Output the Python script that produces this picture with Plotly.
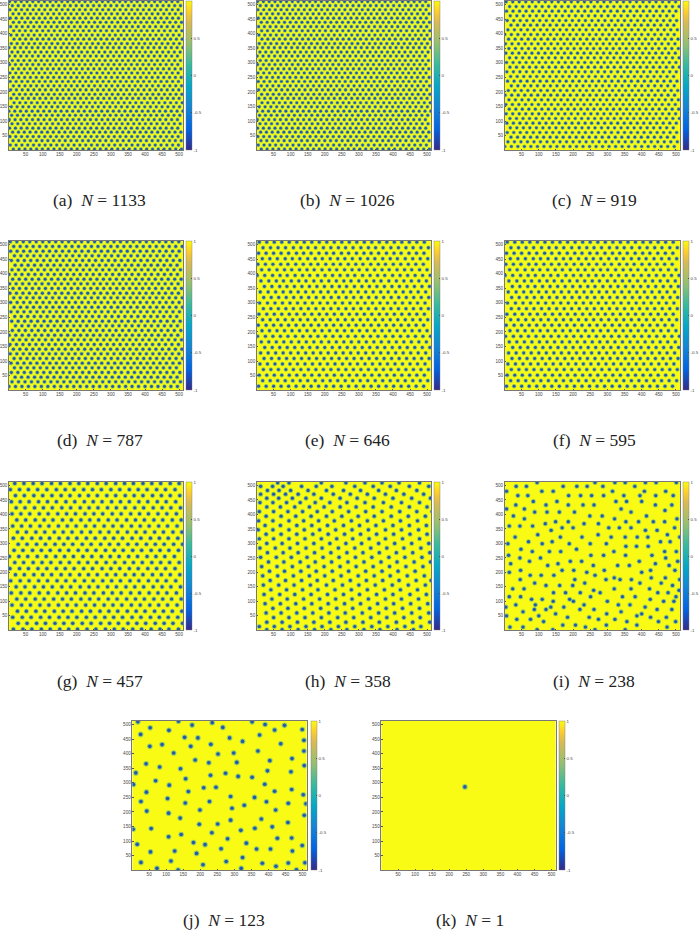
# Panel i was mostly read from a zoom, plus about 20 dots placed by eye to fill gaps.
# Panels g and h are coarse row-wise estimates (g was not zoomed). Panels a-f are too fine to resolve:
# their rows are hand-typed estimates matching overall dot density only, and pairs a/b, c/d, e/f share a list.
import plotly.graph_objects as go

titles = ["(a)", "(b)", "(c)", "(d)", "(e)", "(f)", "(g)", "(h)", "(i)", "(j)", "(k)"]
counts = [1133, 1026, 919, 787, 646, 595, 457, 358, 238, 123, 1]
tick_values = [50, 100, 150, 200, 250, 300, 350, 400, 450, 500]
cbar_ticks = [-1, -0.5, 0, 0.5, 1]
cbar_labels = ["-1", "-0.5", "0", "0.5", "1"]

k_x = [246]
k_y = [286]
j_x = [17,136,235,352,53,108,176,266,390,447,418,499,25,154,193,286,374,324,504,52,88,172,231,436,504,122,252,298,369,185,225,307,404,469,41,81,142,505,11,230,274,311,352,397,466,157,69,4,109,389,210,246,418,468,42,165,289,359,502,104,26,227,156,394,458,329,510,293,199,421,43,107,505,141,379,289,457,197,251,411,56,3,360,319,234,144,107,426,468,280,180,15,214,335,499,261,365,406,54,125,470,189,324,114,26,276,382,458,507,208,422,73,320,135,482]
j_y = [509,511,506,509,489,480,498,490,500,497,481,483,466,456,454,454,464,442,446,425,431,425,432,434,409,402,399,402,409,378,369,370,376,383,365,354,348,359,334,326,333,322,319,341,338,314,307,294,292,295,283,285,271,277,268,270,253,250,259,246,236,236,231,235,230,223,228,213,207,207,203,196,189,179,176,172,164,158,159,149,143,141,144,137,129,123,115,110,111,108,95,89,88,93,85,74,73,73,63,66,66,58,44,32,27,30,24,25,26,19,14,7,7,1,2]

rows_i = [(510,[95,264,322,352,411,442,501]),(497,[34,64,171,211,241,287,380]),(480,[6,109,142,315,408,470]),(465,[39,68,187,222,254,289,348,441,492,395]),(445,[84,153,325,356,400]),(433,[33,121,186,229,261,440,488]),(419,[6,58,340]),(414,[468]),(408,[88,124,160,204,369]),(395,[26,249,285,414]),(385,[58,321,503]),(375,[149,186,354,391,434,467]),(368,[119,232,274]),(360,[14,45,82]),(354,[304,335,369,168,200,496]),(345,[136,411,445]),(330,[273,475,97]),(322,[31,163,226,311,352,387,418,511]),(306,[70,139,455,483]),(299,[10,110,189,250,297]),(290,[354,385,419]),(280,[48,210]),(272,[81,164,131,467,501,319]),(259,[12,252,289,353,430]),(250,[45,105,470]),(238,[73,192,225,393,505]),(230,[18,156,440]),(224,[126,259,330,364,480]),(207,[47,168,202,291,426,497]),(200,[14,400,240]),(190,[75,107,144,264]),(181,[428,469,320]),(175,[46,296,337,370,511,205]),(163,[234,457,88,395]),(155,[121,161,199,490]),(143,[24,57,320,369,423]),(138,[509,260]),(130,[143,178,221,279,447,477]),(116,[14,47,251,344,381,500]),(107,[79,110,425,190]),(100,[142,201,300,464,494]),(88,[33,232,332,366,90]),(80,[4,173,410,135]),(72,[87,121,261,445,488,220]),(64,[54,340]),(57,[149,298,400]),(50,[6,386,100]),(45,[184,247,426,472]),(38,[36,76,274,322]),(30,[114,357,499,449]),(18,[170,207,297,386]),(11,[16,54,236,474]),(2,[95,141,264,352])]

rows_h = [(509,[62,95,190,262,318,368,418,478]),(497,[12,47,78,132,175,221,288,342,392,448,505]),(483,[32,66,100,151,205,255,305,358,410,470]),(470,[12,50,85,122,168,225,275,325,378,432,490]),(456,[30,65,105,145,190,245,295,345,400,455,510]),(441,[10,48,88,128,172,215,265,318,372,425,478]),(426,[30,70,112,155,198,245,292,342,395,448,500]),(410,[8,50,92,135,178,222,270,320,368,420,470,515]),(394,[28,72,115,160,205,250,298,345,395,445,495]),(378,[6,48,95,138,182,228,278,325,372,422,472]),(362,[25,70,118,162,208,255,302,350,400,448,498]),(347,[5,48,95,140,185,232,280,328,378,425,475]),(332,[28,72,118,165,210,258,305,352,402,450,500]),(316,[8,50,95,142,190,235,282,330,378,428,478]),(300,[30,75,120,168,215,262,308,358,405,455,505]),(284,[10,55,98,145,192,240,288,335,382,432,482]),(268,[32,78,122,170,218,265,312,360,410,458,508]),(252,[12,58,102,148,195,242,290,338,388,435,485]),(236,[35,80,128,172,220,268,315,365,412,462,510]),(220,[15,60,105,152,198,245,292,342,390,438,488]),(204,[38,82,130,175,222,270,320,368,415,465]),(188,[18,62,108,155,200,248,298,345,392,442,492]),(172,[40,85,132,178,225,275,322,370,418,468,512]),(156,[20,65,110,158,205,252,300,348,398,445,495]),(140,[42,88,135,180,230,278,325,375,422,472]),(124,[22,68,112,160,208,255,302,352,400,450,498]),(108,[45,90,138,185,232,280,328,378,425,475]),(92,[25,70,115,162,210,258,305,355,402,452,502]),(76,[48,92,140,188,235,282,332,380,428,478]),(60,[28,72,118,165,212,260,310,358,405,455,505]),(44,[50,95,142,190,238,285,335,382,432,480]),(28,[30,75,120,168,215,262,312,360,410,458,508]),(13,[8,52,98,145,192,240,288,338,385,435,482]),(2,[30,75,122,170,218,265,315,362,412,460])]

rows_g = [(507,[18,45,72,98,126,152,180,206,232,260,286,314,340,366,394,420,446,474,500]),(486,[5,32,58,85,112,140,166,192,220,246,272,300,326,354,380,406,434,460,488]),(465,[20,46,74,100,127,154,180,208,234,260,288,314,342,368,394,422,448,474,502]),(444,[8,34,60,88,114,140,168,194,222,248,274,302,328,354,382,408,436,462,490]),(423,[22,48,76,102,128,156,182,210,236,262,290,316,342,370,396,424,450,476,504]),(402,[10,36,62,90,116,144,170,196,224,250,276,304,330,358,384,410,438,464,492]),(381,[24,50,78,104,130,158,184,212,238,264,292,318,346,372,398,426,452,480,506]),(360,[12,38,64,92,118,146,172,198,226,252,280,306,332,360,386,412,440,466,494]),(339,[26,52,80,106,134,160,186,214,240,268,294,320,348,374,400,428,454,482,508]),(318,[14,40,68,94,120,148,174,200,228,254,282,308,334,362,388,416,442,468,496]),(297,[28,54,82,108,136,162,188,216,242,270,296,322,350,376,404,430,456,484,510]),(276,[16,42,70,96,122,150,176,204,230,256,284,310,336,364,390,418,444,470,498]),(255,[2,30,56,84,110,138,164,190,218,244,272,298,324,352,378,406,432,458,486]),(234,[18,44,72,98,124,152,178,206,232,258,286,312,340,366,392,420,446,472,500]),(213,[4,32,58,86,112,140,166,192,220,246,274,300,326,354,380,408,434,460,488]),(192,[20,46,74,100,126,154,180,208,234,260,288,314,342,368,394,422,448,474,502]),(171,[6,34,60,88,114,142,168,194,222,248,276,302,328,356,382,410,436,462,490]),(150,[22,48,76,102,128,156,182,210,236,262,290,316,344,370,396,424,450,476,504]),(129,[8,36,62,90,116,144,170,196,224,250,278,304,330,358,384,412,438,464,492]),(108,[24,50,78,104,132,158,184,212,238,264,292,318,346,372,398,426,452,478,506]),(87,[10,38,64,92,118,146,172,198,226,252,280,306,332,360,386,414,440,466,494]),(66,[26,52,80,106,134,160,186,214,240,268,294,320,348,374,400,428,454,480,508]),(45,[12,40,66,94,120,148,174,200,228,254,282,308,334,362,388,416,442,468,496]),(24,[28,54,82,108,136,162,188,216,242,270,296,322,350,376,402,430,456,482,510]),(4,[14,42,68,96,122,150,176,202,230,256,284,310,336,364,390,418,444,470,498])]

rows_ef = [(508,[8,30,52,74,96,118,140,162,184,206,228,250,272,294,316,338,360,382,404,426,448,470,492]),(489,[19,41,63,85,108,130,151,173,196,218,240,261,283,306,328,349,371,394,416,438,459,482,504]),(470,[6,28,50,72,94,117,138,160,183,205,226,249,270,293,315,336,358,381,403,424,447,469,491]),(451,[17,39,61,84,105,127,150,172,193,216,238,259,281,304,326,347,370,392,413,436,458,480,502]),(432,[4,26,48,71,92,115,137,159,180,203,225,246,269,291,312,335,357,378,401,423,445,467,489]),(413,[15,37,60,82,103,126,148,169,192,214,235,258,280,301,324,346,368,389,412,434,455,478,500]),(394,[2,24,47,69,90,113,135,156,179,201,223,245,267,288,311,333,355,376,399,421,443,465,487,509]),(375,[13,36,58,79,102,124,145,168,190,212,234,256,277,300,322,344,365,388,410,432,454,476,498]),(356,[23,45,68,89,111,133,155,177,199,221,243,264,287,309,331,353,375,397,419,441,463,485,507]),(337,[11,34,56,78,100,122,144,166,188,210,232,254,276,298,320,342,364,386,408,430,452,474,496]),(318,[21,43,65,87,109,131,153,175,197,219,241,263,285,307,329,351,373,395,417,439,461,483,505]),(299,[9,32,54,76,98,120,142,164,186,208,230,252,274,296,318,340,362,384,406,428,450,472,494]),(280,[20,42,64,86,108,130,152,174,196,218,240,262,284,306,328,350,372,394,416,438,460,482,504]),(261,[7,30,52,74,96,118,140,162,184,206,228,250,272,294,316,338,360,382,404,426,448,470,492]),(242,[18,40,62,84,106,128,150,172,194,216,238,260,282,304,326,348,370,392,414,436,458,480,502]),(223,[5,28,50,72,94,116,138,160,182,204,226,248,270,292,314,336,358,380,402,424,446,468,490]),(204,[16,38,60,82,104,126,148,170,192,214,236,258,280,302,324,346,368,390,412,434,456,478,500]),(185,[3,26,48,70,92,114,136,158,180,202,224,246,268,290,312,334,356,378,400,422,444,466,488,510]),(166,[14,36,58,80,102,124,146,168,190,212,234,256,278,300,322,344,366,388,410,432,454,476,498]),(147,[24,46,68,90,112,134,156,178,200,222,244,266,288,310,332,354,376,398,420,442,464,486,508]),(128,[12,34,56,78,100,122,144,166,188,210,232,254,276,298,320,342,364,386,408,430,452,474,496]),(109,[22,44,66,88,110,132,154,176,198,220,242,264,286,308,330,352,374,396,418,440,462,484,506]),(90,[10,32,54,76,98,120,142,164,186,208,230,252,274,296,318,340,362,384,406,428,450,472,494]),(71,[20,42,64,86,108,130,152,174,196,218,240,262,284,306,328,350,372,394,416,438,460,482,504]),(52,[8,30,52,74,96,118,140,162,184,206,228,250,272,294,316,338,360,382,404,426,448,470,492]),(33,[18,40,62,84,106,128,150,172,194,216,238,260,282,304,326,348,370,392,414,436,458,480,502]),(14,[6,28,50,72,94,116,138,160,182,204,226,248,270,292,314,336,358,380,402,424,446,468,490])]

rows_cd = [(509,[5,24,43,62,81,100,119,138,157,176,195,214,233,252,271,290,309,328,347,366,385,404,423,442,461,480,499]),(493,[15,34,53,72,91,110,129,148,167,186,205,224,243,262,281,300,319,338,357,376,395,414,433,452,471,490,509]),(477,[6,25,44,63,82,101,120,139,158,177,196,215,234,253,272,291,310,329,348,367,386,405,424,443,462,481,500]),(461,[17,36,55,74,93,112,131,150,169,188,207,226,245,264,283,302,321,340,359,378,397,416,435,454,473,492]),(445,[8,27,46,65,84,103,122,141,160,179,198,217,236,255,274,293,312,331,350,369,388,407,426,445,464,483,502]),(429,[19,38,57,76,95,114,133,152,171,190,209,228,247,266,285,304,323,342,361,380,399,418,437,456,475,494]),(413,[10,29,48,67,86,105,124,143,162,181,200,219,238,257,276,295,314,333,352,371,390,409,428,447,466,485,504]),(397,[1,20,39,58,77,96,115,134,153,172,191,210,229,248,267,286,305,324,343,362,381,400,419,438,457,476,495]),(381,[12,31,50,69,88,107,126,145,164,183,202,221,240,259,278,297,316,335,354,373,392,411,430,449,468,487,506]),(365,[3,22,41,60,79,98,117,136,155,174,193,212,231,250,269,288,307,326,345,364,383,402,421,440,459,478,497]),(349,[13,32,51,70,89,108,127,146,165,184,203,222,241,260,279,298,317,336,355,374,393,412,431,450,469,488,507]),(333,[4,23,42,61,80,99,118,137,156,175,194,213,232,251,270,289,308,327,346,365,384,403,422,441,460,479,498]),(317,[15,34,53,72,91,110,129,148,167,186,205,224,243,262,281,300,319,338,357,376,395,414,433,452,471,490,509]),(301,[6,25,44,63,82,101,120,139,158,177,196,215,234,253,272,291,310,329,348,367,386,405,424,443,462,481,500]),(285,[16,35,54,73,92,111,130,149,168,187,206,225,244,263,282,301,320,339,358,377,396,415,434,453,472,491,510]),(269,[7,26,45,64,83,102,121,140,159,178,197,216,235,254,273,292,311,330,349,368,387,406,425,444,463,482,501]),(253,[18,37,56,75,94,113,132,151,170,189,208,227,246,265,284,303,322,341,360,379,398,417,436,455,474,493]),(237,[9,28,47,66,85,104,123,142,161,180,199,218,237,256,275,294,313,332,351,370,389,408,427,446,465,484,503]),(221,[20,39,58,77,96,115,134,153,172,191,210,229,248,267,286,305,324,343,362,381,400,419,438,457,476,495]),(205,[11,30,49,68,87,106,125,144,163,182,201,220,239,258,277,296,315,334,353,372,391,410,429,448,467,486,505]),(189,[2,21,40,59,78,97,116,135,154,173,192,211,230,249,268,287,306,325,344,363,382,401,420,439,458,477,496]),(173,[13,32,51,70,89,108,127,146,165,184,203,222,241,260,279,298,317,336,355,374,393,412,431,450,469,488,507]),(157,[4,23,42,61,80,99,118,137,156,175,194,213,232,251,270,289,308,327,346,365,384,403,422,441,460,479,498]),(141,[14,33,52,71,90,109,128,147,166,185,204,223,242,261,280,299,318,337,356,375,394,413,432,451,470,489,508]),(125,[5,24,43,62,81,100,119,138,157,176,195,214,233,252,271,290,309,328,347,366,385,404,423,442,461,480,499]),(109,[16,35,54,73,92,111,130,149,168,187,206,225,244,263,282,301,320,339,358,377,396,415,434,453,472,491,510]),(93,[7,26,45,64,83,102,121,140,159,178,197,216,235,254,273,292,311,330,349,368,387,406,425,444,463,482,501]),(77,[17,36,55,74,93,112,131,150,169,188,207,226,245,264,283,302,321,340,359,378,397,416,435,454,473,492]),(61,[8,27,46,65,84,103,122,141,160,179,198,217,236,255,274,293,312,331,350,369,388,407,426,445,464,483,502]),(45,[19,38,57,76,95,114,133,152,171,190,209,228,247,266,285,304,323,342,361,380,399,418,437,456,475,494]),(29,[10,29,48,67,86,105,124,143,162,181,200,219,238,257,276,295,314,333,352,371,390,409,428,447,466,485,504]),(13,[1,20,39,58,77,96,115,134,153,172,191,210,229,248,267,286,305,324,343,362,381,400,419,438,457,476,495])]

rows_ab = [(510,[3,20,37,54,71,88,105,122,139,156,173,190,207,224,241,258,275,292,309,326,343,360,377,394,411,428,445,462,479,496]),(496,[11,28,45,62,79,96,113,130,147,164,181,198,215,232,249,266,283,300,317,334,351,368,385,402,419,436,453,470,487,504]),(482,[4,21,38,55,72,89,106,123,140,157,174,191,208,225,242,259,276,293,310,327,344,361,378,395,412,429,446,463,480,497]),(468,[13,30,47,64,81,98,115,132,149,166,183,200,217,234,251,268,285,302,319,336,353,370,387,404,421,438,455,472,489,506]),(453,[5,22,39,56,73,90,107,124,141,158,175,192,209,226,243,260,277,294,311,328,345,362,379,396,413,430,447,464,481,498]),(439,[14,31,48,65,82,99,116,133,150,167,184,201,218,235,252,269,286,303,320,337,354,371,388,405,422,439,456,473,490,507]),(424,[6,23,40,57,74,91,108,125,142,159,176,193,210,227,244,261,278,295,312,329,346,363,380,397,414,431,448,465,482,499]),(410,[15,32,49,66,83,100,117,134,151,168,185,202,219,236,253,270,287,304,321,338,355,372,389,406,423,440,457,474,491,508]),(395,[7,24,41,58,75,92,109,126,143,160,177,194,211,228,245,262,279,296,313,330,347,364,381,398,415,432,449,466,483,500]),(381,[16,33,50,67,84,101,118,135,152,169,186,203,220,237,254,271,288,305,322,339,356,373,390,407,424,441,458,475,492,509]),(366,[8,25,42,59,76,93,110,127,144,161,178,195,212,229,246,263,280,297,314,331,348,365,382,399,416,433,450,467,484,501]),(352,[1,18,35,52,69,86,103,120,137,154,171,188,205,222,239,256,273,290,307,324,341,358,375,392,409,426,443,460,477,494,511]),(337,[10,27,44,61,78,95,112,129,146,163,180,197,214,231,248,265,282,299,316,333,350,367,384,401,418,435,452,469,486,503]),(323,[2,19,36,53,70,87,104,121,138,155,172,189,206,223,240,257,274,291,308,325,342,359,376,393,410,427,444,461,478,495]),(308,[11,28,45,62,79,96,113,130,147,164,181,198,215,232,249,266,283,300,317,334,351,368,385,402,419,436,453,470,487,504]),(294,[3,20,37,54,71,88,105,122,139,156,173,190,207,224,241,258,275,292,309,326,343,360,377,394,411,428,445,462,479,496]),(279,[12,29,46,63,80,97,114,131,148,165,182,199,216,233,250,267,284,301,318,335,352,369,386,403,420,437,454,471,488,505]),(265,[4,21,38,55,72,89,106,123,140,157,174,191,208,225,242,259,276,293,310,327,344,361,378,395,412,429,446,463,480,497]),(250,[13,30,47,64,81,98,115,132,149,166,183,200,217,234,251,268,285,302,319,336,353,370,387,404,421,438,455,472,489,506]),(236,[5,22,39,56,73,90,107,124,141,158,175,192,209,226,243,260,277,294,311,328,345,362,379,396,413,430,447,464,481,498]),(221,[14,31,48,65,82,99,116,133,150,167,184,201,218,235,252,269,286,303,320,337,354,371,388,405,422,439,456,473,490,507]),(207,[6,23,40,57,74,91,108,125,142,159,176,193,210,227,244,261,278,295,312,329,346,363,380,397,414,431,448,465,482,499]),(192,[15,32,49,66,83,100,117,134,151,168,185,202,219,236,253,270,287,304,321,338,355,372,389,406,423,440,457,474,491,508]),(178,[7,24,41,58,75,92,109,126,143,160,177,194,211,228,245,262,279,296,313,330,347,364,381,398,415,432,449,466,483,500]),(163,[16,33,50,67,84,101,118,135,152,169,186,203,220,237,254,271,288,305,322,339,356,373,390,407,424,441,458,475,492,509]),(149,[8,25,42,59,76,93,110,127,144,161,178,195,212,229,246,263,280,297,314,331,348,365,382,399,416,433,450,467,484,501]),(134,[1,18,35,52,69,86,103,120,137,154,171,188,205,222,239,256,273,290,307,324,341,358,375,392,409,426,443,460,477,494,511]),(120,[9,26,43,60,77,94,111,128,145,162,179,196,213,230,247,264,281,298,315,332,349,366,383,400,417,434,451,468,485,502]),(105,[2,19,36,53,70,87,104,121,138,155,172,189,206,223,240,257,274,291,308,325,342,359,376,393,410,427,444,461,478,495]),(91,[10,27,44,61,78,95,112,129,146,163,180,197,214,231,248,265,282,299,316,333,350,367,384,401,418,435,452,469,486,503]),(76,[3,20,37,54,71,88,105,122,139,156,173,190,207,224,241,258,275,292,309,326,343,360,377,394,411,428,445,462,479,496]),(62,[12,29,46,63,80,97,114,131,148,165,182,199,216,233,250,267,284,301,318,335,352,369,386,403,420,437,454,471,488,505]),(47,[4,21,38,55,72,89,106,123,140,157,174,191,208,225,242,259,276,293,310,327,344,361,378,395,412,429,446,463,480,497]),(33,[13,30,47,64,81,98,115,132,149,166,183,200,217,234,251,268,285,302,319,336,353,370,387,404,421,438,455,472,489,506]),(18,[5,22,39,56,73,90,107,124,141,158,175,192,209,226,243,260,277,294,311,328,345,362,379,396,413,430,447,464,481,498]),(4,[14,31,48,65,82,99,116,133,150,167,184,201,218,235,252,269,286,303,320,337,354,371,388,405,422,439,456,473,490,507])]

parula = [[0,"#352a87"],[0.14,"#0363e1"],[0.29,"#1485d4"],[0.43,"#06a7c6"],[0.57,"#38b99e"],[0.71,"#92bf73"],[0.86,"#d9ba56"],[0.93,"#fcce2e"],[1,"#f9fb0e"]]


def flatten(rows):
    xs, ys = [], []
    for y, row in rows:
        xs += row
        ys += [y] * len(row)
    return xs, ys


points = [flatten(rows_ab), flatten(rows_ab), flatten(rows_cd), flatten(rows_cd), flatten(rows_ef), flatten(rows_ef),
          flatten(rows_g), flatten(rows_h), flatten(rows_i), (j_x, j_y), (k_x, k_y)]
# left, right, top, bottom, colorbar left (px), caption centre x, caption y
boxes = [(9,184,1,150,187,100,200),(258,433,1,150,436,349,200),(507,683,1,150,686,597,200),
         (9,184,241,390,187,100,440),(258,433,241,390,436,349,440),(507,683,241,390,686,597,440),
         (9,184,482,630,187,100,681),(258,433,482,630,436,349,681),(507,683,482,630,686,597,681),
         (133,308,721,870,312,225,920),(383,558,721,870,561,472,920)]
sizes = [(4.2,2.7)]*3 + [(4.5,2.9)]*3 + [(5,3.2)]*3 + [(5.6,3.6)]*2

fig = go.Figure()
layout = {}
annotations = []
W, H = 700, 930
for n, (pts, box, sz) in enumerate(zip(points, boxes, sizes)):
    l, r, t, b, cb, cx, cy = box
    s = "" if n == 0 else str(n + 1)
    axis = dict(range=[1, 512], tickvals=tick_values, ticks="inside", ticklen=1.5, tickwidth=0.4, tickcolor="#555",
                showgrid=False, zeroline=False, showline=True, mirror=True, linecolor="#777", linewidth=0.5,
                tickfont=dict(size=4.6, color="#444", family="Liberation Sans"))
    layout["xaxis" + s] = dict(axis, domain=[l / W, r / W], anchor="y" + s)
    layout["yaxis" + s] = dict(axis, domain=[1 - b / H, 1 - t / H], anchor="x" + s)
    xs, ys = pts
    fig.add_trace(go.Scatter(x=xs, y=ys, xaxis="x" + s, yaxis="y" + s, mode="markers", hoverinfo="skip", showlegend=False,
                             marker=dict(size=sz[0], color=[0.3] * len(xs), cmin=-1, cmax=1, colorscale=parula, opacity=0.7, line_width=0)))
    fig.add_trace(go.Scatter(x=xs, y=ys, xaxis="x" + s, yaxis="y" + s, mode="markers", hoverinfo="skip", showlegend=False,
                             marker=dict(size=sz[1], color=[-0.85] * len(xs), cmin=-1, cmax=1, colorscale=parula, line_width=0, opacity=0.9,
                                         showscale=True,
                                         colorbar=dict(x=cb / W, xanchor="left", xref="paper", y=1 - t / H, yanchor="top", yref="paper",
                                                       len=b - t, lenmode="pixels", thickness=6, thicknessmode="pixels", xpad=0, ypad=0,
                                                       tickvals=cbar_ticks, ticktext=cbar_labels, ticks="inside", ticklen=1, tickwidth=0.3,
                                                       outlinewidth=0.4, outlinecolor="#777", tickfont=dict(size=4.4, color="#444", family="Liberation Sans")))))
    annotations.append(dict(x=cx / W, y=1 - cy / H, xref="paper", yref="paper", showarrow=False, xanchor="center", yanchor="middle",
                            text=f"{titles[n]}  <i>N</i> = {counts[n]}", font=dict(family="Liberation Serif", size=17.5, color="#222")))

fig.update_layout(width=W, height=H, margin=dict(l=0, r=0, t=0, b=0), paper_bgcolor="white", plot_bgcolor="#f9fb15",
                  annotations=annotations, **layout)
fig.write_html("out.html", config={"displayModeBar": False}, post_script="document.body.style.margin='0';")
